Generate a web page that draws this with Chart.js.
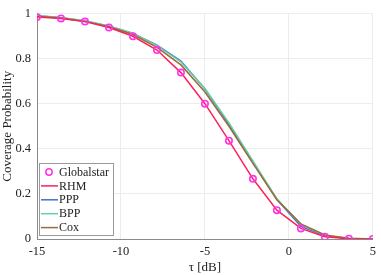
<!DOCTYPE html>
<html>
<head>
<meta charset="utf-8">
<script src="https://cdn.jsdelivr.net/npm/chart.js@4.4.1/dist/chart.umd.min.js"></script>
<style>
    html, body { margin: 0; padding: 0; background: #fff; }
    #wrap { width: 381px; height: 275px; }
</style>
</head>
<body>
<div id="wrap"><canvas id="chart"></canvas></div>
<script>
// tau in dB, 15 samples from -15 to 5
const tau = [-15, -13.571, -12.143, -10.714, -9.286, -7.857, -6.429, -5, -3.571, -2.143, -0.714, 0.714, 2.143, 3.571, 5];

const globalstar = [0.985, 0.978, 0.964, 0.938, 0.899, 0.838, 0.738, 0.600, 0.436, 0.267, 0.128, 0.047, 0.010, 0.001, 0.0];
const rhm        = [0.985, 0.978, 0.964, 0.938, 0.899, 0.838, 0.738, 0.600, 0.436, 0.267, 0.128, 0.047, 0.010, 0.001, 0.0];
const ppp        = [0.990, 0.981, 0.967, 0.944, 0.912, 0.860, 0.789, 0.665, 0.510, 0.340, 0.175, 0.056, 0.014, 0.002, 0.0];
const bpp        = [0.991, 0.982, 0.968, 0.945, 0.913, 0.858, 0.785, 0.667, 0.515, 0.346, 0.178, 0.064, 0.016, 0.002, 0.0];
const cox        = [0.988, 0.980, 0.965, 0.941, 0.907, 0.850, 0.772, 0.652, 0.500, 0.335, 0.174, 0.067, 0.018, 0.003, 0.0];

const xTicks = [-15, -10, -5, 0, 5];
const yTicks = [0, 0.2, 0.4, 0.6, 0.8, 1];

const serif = "'Liberation Serif', 'DejaVu Serif', serif";

function pts(ys) {
    return tau.map((x, i) => ({ x: x, y: ys[i] }));
}

// legend drawn inside the axes, lower left, matlab style
const boxLegend = {
    id: 'boxLegend',
    afterDatasetsDraw(chart) {
        const ctx = chart.ctx;
        const x0 = 39.5, y0 = 163.5, w = 74, h = 72;
        ctx.save();
        ctx.fillStyle = '#fff';
        ctx.fillRect(x0, y0, w, h);
        ctx.strokeStyle = '#9a9a9a';
        ctx.lineWidth = 1;
        ctx.strokeRect(x0, y0, w, h);
        ctx.font = '12px ' + serif;
        ctx.textBaseline = 'middle';
        chart.data.datasets.forEach((ds, i) => {
            const cy = y0 + 8.5 + i * 13.9;
            if (ds.showLine === false) {
                ctx.beginPath();
                ctx.arc(49, cy, 3.2, 0, Math.PI * 2);
                ctx.strokeStyle = ds.pointBorderColor;
                ctx.lineWidth = 1.5;
                ctx.stroke();
            } else {
                ctx.beginPath();
                ctx.moveTo(41, cy);
                ctx.lineTo(58, cy);
                ctx.strokeStyle = ds.borderColor;
                ctx.lineWidth = 1.5;
                ctx.stroke();
            }
            ctx.fillStyle = '#222';
            ctx.fillText(ds.label, 59, cy + 0.5);
        });
        ctx.restore();
    }
};

const ctx = document.getElementById('chart').getContext('2d');
const chart = new Chart(ctx, {
    type: 'scatter',
    data: {
        datasets: [
            {
                label: 'Globalstar',
                data: pts(globalstar),
                showLine: false,
                pointRadius: 3.2,
                pointBorderWidth: 1.6,
                pointBorderColor: '#ff33ee',
                pointBackgroundColor: 'rgba(0,0,0,0)',
                order: 0
            },
            {
                label: 'RHM',
                data: pts(rhm),
                showLine: true,
                borderColor: '#ff2058',
                borderWidth: 1.5,
                pointRadius: 0,
                order: 1
            },
            {
                label: 'PPP',
                data: pts(ppp),
                showLine: true,
                borderColor: '#4470d0',
                borderWidth: 1.5,
                pointRadius: 0,
                order: 4
            },
            {
                label: 'BPP',
                data: pts(bpp),
                showLine: true,
                borderColor: '#66d2a2',
                borderWidth: 1.5,
                pointRadius: 0,
                order: 3
            },
            {
                label: 'Cox',
                data: pts(cox),
                showLine: true,
                borderColor: '#9c6a3c',
                borderWidth: 1.5,
                pointRadius: 0,
                order: 2
            }
        ]
    },
    options: {
        responsive: true,
        maintainAspectRatio: false,
        animation: false,
        layout: {
            padding: { top: 5, right: 4, left: 0, bottom: 0 }
        },
        plugins: {
            legend: { display: false },
            tooltip: { enabled: false }
        },
        scales: {
            x: {
                type: 'linear',
                min: -15,
                max: 5,
                afterBuildTicks: (scale) => {
                    scale.ticks = xTicks.map(v => ({ value: v }));
                },
                afterFit: (scale) => {
                    scale.height = 36;
                },
                grid: {
                    color: '#ececec',
                    drawTicks: false
                },
                border: { color: '#8a8a8a' },
                ticks: {
                    color: '#222',
                    padding: 5,
                    font: { family: serif, size: 12.5 },
                    callback: (v) => String(v)
                },
                title: {
                    display: true,
                    text: 'τ [dB]',
                    color: '#222',
                    padding: { top: 1, bottom: 0 },
                    font: { family: serif, size: 13 }
                }
            },
            y: {
                type: 'linear',
                min: 0,
                max: 1,
                afterBuildTicks: (scale) => {
                    scale.ticks = yTicks.map(v => ({ value: v }));
                },
                afterFit: (scale) => {
                    scale.width = 37;
                },
                grid: {
                    color: '#ececec',
                    drawTicks: false
                },
                border: { color: '#8a8a8a' },
                ticks: {
                    color: '#222',
                    padding: 6,
                    font: { family: serif, size: 12.5 },
                    callback: (v) => String(v)
                },
                title: {
                    display: true,
                    text: 'Coverage Probability',
                    color: '#222',
                    padding: { top: 0, bottom: 0 },
                    font: { family: serif, size: 13 }
                }
            }
        }
    },
    plugins: [boxLegend]
});
</script>
</body>
</html>
